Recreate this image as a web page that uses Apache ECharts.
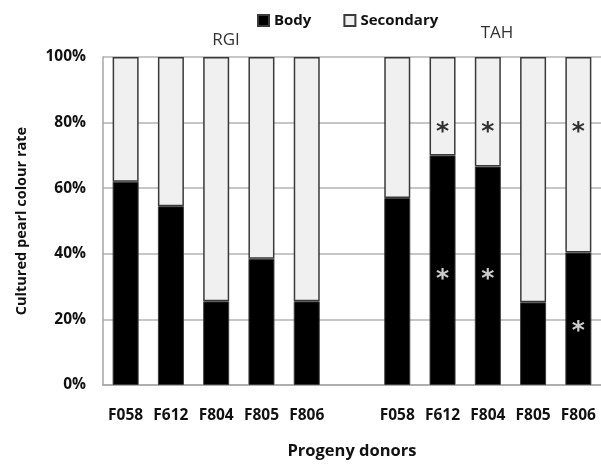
<!DOCTYPE html>
<html>
<head>
<meta charset="utf-8">
<script src="https://cdn.jsdelivr.net/npm/echarts@6/dist/echarts.min.js"></script>
<style>
html, body { margin: 0; padding: 0; background: #fff; }
#chart { width: 601px; height: 465px; }
</style>
</head>
<body>
<div id="chart"></div>
<script>
/* categories: RGI group, empty gap, TAH group */
var donors = ['F058', 'F612', 'F804', 'F805', 'F806', '', 'F058', 'F612', 'F804', 'F805', 'F806'];
var bodyRate = [62, 54.5, 25.5, 38.5, 25.5, null, 57, 70, 66.6, 25.2, 40.4];
var secondaryRate = [38, 45.5, 74.5, 61.5, 74.5, null, 43, 30, 33.4, 74.8, 59.6];
var yTicks = [0, 20, 40, 60, 80, 100];
/* significance asterisks: [category index, level] */
var starsSecondary = [[7, 79], [8, 79], [10, 79]];
var starsBody = [[7, 34.3], [8, 34.3], [10, 18.5]];

var FONT = '"Open Sans", "Noto Sans", sans-serif';

function starSeries(data, color) {
    return {
        type: 'scatter',
        data: data,
        symbolSize: 1,
        itemStyle: { color: 'transparent' },
        silent: true,
        z: 10,
        label: {
            show: true,
            position: 'inside',
            formatter: '*',
            color: color,
            fontFamily: 'DejaVu Sans',
            fontSize: 25,
            fontWeight: 'bold',
            offset: [0, 7]
        }
    };
}

var option = {
    animation: false,
    backgroundColor: '#fff',
    textStyle: { fontFamily: FONT },
    title: [
        { text: 'RGI', left: 221, top: 27, textAlign: 'center',
          textStyle: { fontSize: 17, fontWeight: 'normal', color: '#333', fontFamily: FONT } },
        { text: 'TAH', left: 492, top: 20, textAlign: 'center',
          textStyle: { fontSize: 17, fontWeight: 'normal', color: '#333', fontFamily: FONT } }
    ],
    legend: {
        left: 252,
        top: 8,
        itemWidth: 11,
        itemHeight: 11,
        itemGap: 32,
        icon: 'rect',
        data: ['Body', 'Secondary'],
        textStyle: { fontSize: 15, fontWeight: 'bold', color: '#111', fontFamily: FONT }
    },
    grid: {
        left: 103,
        top: 57,
        width: 501,
        height: 329
    },
    xAxis: {
        type: 'category',
        data: donors,
        name: 'Progeny donors',
        nameLocation: 'middle',
        nameGap: 58,
        nameTextStyle: { fontSize: 16.5, fontWeight: 'bold', color: '#111', fontFamily: FONT },
        axisTick: { show: false },
        axisLine: { lineStyle: { color: '#a6a6a6', width: 1.5 } },
        axisLabel: { interval: 0, margin: 23, fontSize: 15.5, fontWeight: 'bold', color: '#111', fontFamily: FONT }
    },
    yAxis: {
        type: 'value',
        min: 0,
        max: 100,
        interval: 20,
        name: 'Cultured pearl colour rate',
        nameLocation: 'middle',
        nameGap: 74,
        nameTextStyle: { fontSize: 14.5, fontWeight: 'bold', color: '#111', fontFamily: FONT },
        axisLine: { show: true, lineStyle: { color: '#a6a6a6', width: 1.5 } },
        axisTick: { show: false },
        axisLabel: {
            margin: 17,
            fontSize: 15.5,
            fontWeight: 'bold',
            color: '#111',
            fontFamily: FONT,
            formatter: function (v) { return yTicks.indexOf(v) >= 0 ? v + '%' : ''; }
        },
        splitLine: { lineStyle: { color: '#b3b3b3', width: 1.5 } }
    },
    series: [
        {
            name: 'Body',
            type: 'bar',
            stack: 'rate',
            barWidth: 26,
            data: bodyRate,
            itemStyle: { color: '#000', borderColor: '#3a3a3a', borderWidth: 1 }
        },
        {
            name: 'Secondary',
            type: 'bar',
            stack: 'rate',
            barWidth: 26,
            data: secondaryRate,
            itemStyle: { color: '#f0f0f0', borderColor: '#3a3a3a', borderWidth: 1.5 }
        },
        starSeries(starsSecondary, '#000'),
        starSeries(starsBody, '#ffffff')
    ]
};

var myChart = echarts.init(document.getElementById('chart'));
myChart.setOption(option);
</script>
</body>
</html>
